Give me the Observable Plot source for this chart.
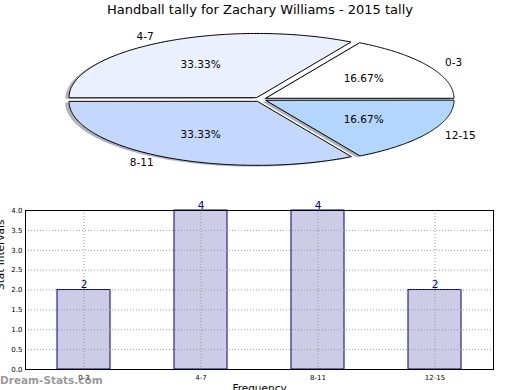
<!DOCTYPE html>
<html>
<head>
<meta charset="utf-8">
<script src="https://cdn.jsdelivr.net/npm/d3@7"></script>
<script src="https://cdn.jsdelivr.net/npm/@observablehq/plot@0.6"></script>
<style>
  html, body { margin: 0; padding: 0; background: white; }
  #root { position: relative; width: 520px; height: 390px; overflow: hidden; font-family: "DejaVu Sans", sans-serif; }
  #pie { position: absolute; left: 0; top: 0; }
  #bar { position: absolute; left: 0; top: 190px; }
  #title { position: absolute; left: 0; top: 2px; width: 520px; text-align: center; font-size: 13px; color: #000; line-height: 16px; }
  #wm { position: absolute; left: 0; top: 372px; font-size: 10.5px; font-weight: bold; color: rgba(120,120,120,0.75); line-height: 16px; }
</style>
</head>
<body>
<div id="root">
  <div id="pie"></div>
  <div id="bar"></div>
  <div id="title"></div>
  <div id="wm">Dream-Stats.com</div>
</div>
<script>
const title = "Handball tally for Zachary Williams - 2015 tally";
const categories = ["0-3", "4-7", "8-11", "12-15"];
const counts = [2, 4, 4, 2];
const sliceColors = ["#ffffff", "#eaf0fe", "#c4d7fd", "#b3d6ff"];
const yTicks = [0, 0.5, 1, 1.5, 2, 2.5, 3, 3.5, 4];
const xLabel = "Frequency";
const yLabel = "Stat Intervals";

document.getElementById("title").textContent = title;

// ---- Pie (exploded, with shadow) ----
const total = d3.sum(counts);
const explode = 0.035;
let cum = 0;
const slices = categories.map((cat, i) => {
  const a0 = cum / total * 2 * Math.PI; cum += counts[i];
  const a1 = cum / total * 2 * Math.PI;
  const mid = (a0 + a1) / 2;
  const cx = explode * Math.cos(mid), cy = explode * Math.sin(mid);
  const pts = [{x: cx, y: cy}];
  const n = 120;
  for (let k = 0; k <= n; k++) {
    const a = a0 + (a1 - a0) * k / n;
    pts.push({x: cx + Math.cos(a), y: cy + Math.sin(a)});
  }
  return {cat, i, mid, cx, cy, pts, pct: (counts[i] / total * 100).toFixed(2) + "%"};
});
function shadowColor(c) { const r = d3.rgb(c); return d3.rgb(r.r * 0.3, r.g * 0.3, r.b * 0.3).formatHex(); }

const pieW = 520, pieH = 180, pcx = 259.8, pcy = 98.9, rx = 188, ry = 64;
const pie = Plot.plot({
  width: pieW, height: pieH, margin: 0,
  x: {domain: [-pcx / rx, (pieW - pcx) / rx], axis: null},
  y: {domain: [-(pieH - pcy) / ry, pcy / ry], axis: null},
  style: {background: "transparent", fontFamily: "DejaVu Sans", overflow: "visible"},
  marks: [
    ...slices.map(s => Plot.line(s.pts, {x: d => d.x - 0.02, y: d => d.y - 0.02, curve: "linear-closed",
      fill: shadowColor(sliceColors[s.i]), fillOpacity: 0.4, stroke: "none"})),
    ...slices.map(s => Plot.line(s.pts, {x: "x", y: "y", curve: "linear-closed",
      fill: sliceColors[s.i], stroke: "#000", strokeWidth: 1})),
    Plot.text(slices.filter(s => Math.cos(s.mid) >= 0), {x: s => s.cx + 1.1 * Math.cos(s.mid), y: s => s.cy + 1.1 * Math.sin(s.mid),
      text: "cat", textAnchor: "start", fontSize: 10.5, fill: "#000"}),
    Plot.text(slices.filter(s => Math.cos(s.mid) < 0), {x: s => s.cx + 1.1 * Math.cos(s.mid), y: s => s.cy + 1.1 * Math.sin(s.mid),
      text: "cat", textAnchor: "end", fontSize: 10.5, fill: "#000"}),
    Plot.text(slices, {x: s => s.cx + 0.6 * Math.cos(s.mid), y: s => s.cy + 0.6 * Math.sin(s.mid),
      text: "pct", textAnchor: "middle", fontSize: 10.5, fill: "#000"})
  ]
});
document.getElementById("pie").appendChild(pie);

// ---- Bar chart ----
const barData = categories.map((cat, i) => ({cat, count: counts[i]}));
const bar = Plot.plot({
  width: 520, height: 200,
  marginTop: 20, marginBottom: 21, marginLeft: 25, marginRight: 27,
  style: {background: "transparent", fontFamily: "DejaVu Sans", fontSize: "7px", color: "#000", overflow: "visible"},
  x: {domain: categories, paddingInner: 0.55, paddingOuter: 0.275, label: null, tickSize: 0, tickPadding: 6},
  y: {domain: [0, 4], ticks: yTicks, tickFormat: d => d.toFixed(1), label: null, tickSize: 0, tickPadding: 3},
  marks: [
    Plot.barY(barData, {x: "cat", y: "count", fill: "#ccccE6", stroke: "#000080", strokeWidth: 1}),
    Plot.ruleY(yTicks.filter(v => v > 0 && v < 4), {stroke: "#999", strokeDasharray: "1,2", strokeWidth: 1}),
    Plot.ruleX(categories, {stroke: "#999", strokeDasharray: "1,2", strokeWidth: 1}),
    Plot.text(barData, {x: "cat", y: "count", text: d => String(d.count), dy: -5, fill: "#000080", fontSize: 10.5}),
    Plot.frame({stroke: "#000"}),
    Plot.text([yLabel], {frameAnchor: "left", text: d => d, rotate: -90, dx: -24.5, fontSize: 10.5, fill: "#000"}),
    Plot.text([xLabel], {frameAnchor: "bottom", text: d => d, dy: 22, fontSize: 10.5, fill: "#000"})
  ]
});
document.getElementById("bar").appendChild(bar);
</script>
</body>
</html>
